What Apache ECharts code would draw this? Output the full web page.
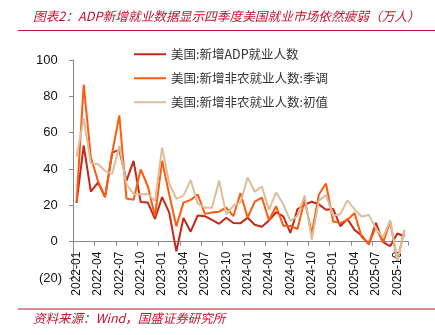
<!DOCTYPE html>
<html>
<head>
<meta charset="utf-8">
<script src="https://cdn.jsdelivr.net/npm/echarts@6/dist/echarts.min.js"></script>
<style>
html,body{margin:0;padding:0;background:#fff;}
#chart{width:435px;height:335px;}
</style>
</head>
<body>
<div id="chart"></div>
<script>
var categories = [
  '2022-01','2022-02','2022-03','2022-04','2022-05','2022-06','2022-07','2022-08','2022-09','2022-10','2022-11','2022-12',
  '2023-01','2023-02','2023-03','2023-04','2023-05','2023-06','2023-07','2023-08','2023-09','2023-10','2023-11','2023-12',
  '2024-01','2024-02','2024-03','2024-04','2024-05','2024-06','2024-07','2024-08','2024-09','2024-10','2024-11','2024-12',
  '2025-01','2025-02','2025-03','2025-04','2025-05','2025-06','2025-07','2025-08','2025-09','2025-10','2025-11'
];
var seriesNames = ['美国:新增ADP就业人数', '美国:新增非农就业人数:季调', '美国:新增非农就业人数:初值'];
var adpValues = [
  21.3, 53, 27.5, 32.5, 24.5, 49, 50.5, 33.5, 44.5, 21.8, 21.5, 12.5,
  24.5, 16, -5.3, 13, 5.5, 14.4, 14, 12, 9.8, 13.2, 10.3, 10.2,
  13.2, 9.3, 8.2, 11.7, 16.2, 13.9, 4.8, 17.9, 20.3, 22, 20.5, 17.6,
  18, 8.5, 12.5, 6.5, 3.3, -1.5, 10.4, -0.3, -2.5, 4.5, 3.0
];
var nfpSaValues = [
  21.5, 86.5, 46.5, 33.5, 24.5, 49, 69.5, 23.8, 23, 39.8, 30.5, 13.8,
  44.5, 26, 8.4, 21.5, 23, 26, 15.3, 16, 16.5, 18.8, 14, 26.7,
  13.2, 22, 24.3, 11.8, 19.5, 8.8, 8.6, 7, 23, 4.4, 26, 32,
  11.1, 10.2, 12, 15.8, 2.5, -1, 8, -0.5, 11, -10.5, 6.4
];
var nfpInitValues = [
  46.7, 67.8, 43.1, 42.8, 39, 37.2, 52.8, 31.5, 26.3, 26.1, 26.3, 22.3,
  51.7, 32, 23.6, 25.3, 33.9, 20.9, 18.7, 18.7, 33.6, 15, 19.9, 21.6,
  35.3, 27.5, 30.3, 17.5, 27.2, 20.6, 11.4, 14.2, 25.4, 1.2, 22.7, 25.6,
  14.3, 15.1, 22.8, 17.7, 13.9, 14.7, 7.3, 2.2, 11.9, -10.5, 6.4
];
var yTicks = { min: -20, max: 100, interval: 20 };
var titleText = '图表2：ADP新增就业数据显示四季度美国就业市场依然疲弱（万人）';
var sourceText = '资料来源：Wind，国盛证券研究所';

var colors = ['#C62818', '#FF5A0E', '#DBBE9A'];
var red = '#C8102E';
var gridTop = 60, gridBottom = 57, chartH = 335;
var plotH = chartH - gridTop - gridBottom;
var zeroOffset = -plotH * (0 - yTicks.min) / (yTicks.max - yTicks.min);

var chart = echarts.init(document.getElementById('chart'), null, {renderer: 'canvas'});
var lineSeries = [adpValues, nfpSaValues, nfpInitValues].map(function (vals, k) {
  return {
    name: seriesNames[k],
    type: 'line',
    data: vals,
    symbol: 'none',
    smooth: false,
    lineStyle: { width: 2, color: colors[k] },
    itemStyle: { color: colors[k] }
  };
});
chart.setOption({
  animation: false,
  backgroundColor: '#fff',
  title: [
    { text: titleText, left: 28, top: 5,
      textStyle: { fontSize: 12.7, fontStyle: 'italic', fontWeight: 'normal', color: red, fontFamily: 'Noto Sans CJK SC' } },
    { text: sourceText, left: 28, top: 307,
      textStyle: { fontSize: 12.5, fontStyle: 'italic', fontWeight: 'normal', color: red, fontFamily: 'Noto Sans CJK SC' } }
  ],
  graphic: [
    { type: 'line', shape: { x1: 18, y1: 30.5, x2: 435, y2: 30.5 }, style: { stroke: '#C0182A', lineWidth: 1.2 } },
    { type: 'line', shape: { x1: 18, y1: 309, x2: 435, y2: 309 }, style: { stroke: '#C0182A', lineWidth: 1.2 } }
  ],
  legend: {
    orient: 'vertical',
    left: 128,
    top: 43,
    itemWidth: 32,
    itemHeight: 14,
    itemGap: 11.5,
    itemStyle: { opacity: 0 },
    textStyle: { fontSize: 12.5, color: '#333', fontFamily: 'Noto Sans CJK SC' },
    data: seriesNames
  },
  grid: { left: 73, right: 27, top: gridTop, bottom: gridBottom, containLabel: false },
  xAxis: {
    type: 'category',
    data: categories,
    boundaryGap: true,
    offset: zeroOffset,
    axisLine: { onZero: false, lineStyle: { color: '#888', width: 1 } },
    axisTick: { show: true, interval: 2, length: 4, lineStyle: { color: '#888' } },
    axisLabel: { interval: 2, rotate: 90, margin: 10, fontSize: 12, color: '#111', fontFamily: 'Liberation Sans' },
    splitLine: { show: false }
  },
  yAxis: {
    type: 'value',
    min: yTicks.min,
    max: yTicks.max,
    interval: yTicks.interval,
    axisLine: { show: true, lineStyle: { color: '#888', width: 1 } },
    axisTick: { show: true, length: 4, lineStyle: { color: '#888' } },
    splitLine: { show: false },
    axisLabel: {
      margin: 11,
      fontSize: 13,
      color: '#111',
      fontFamily: 'Liberation Sans',
      formatter: function (v) {
        return v < 0 ? '(' + (-v) + ')' : '{p|' + v + '}';
      },
      rich: { p: { fontSize: 13, color: '#111', fontFamily: 'Liberation Sans', padding: [0, 4.3, 0, 0] } }
    }
  },
  series: lineSeries
});
</script>
</body>
</html>
